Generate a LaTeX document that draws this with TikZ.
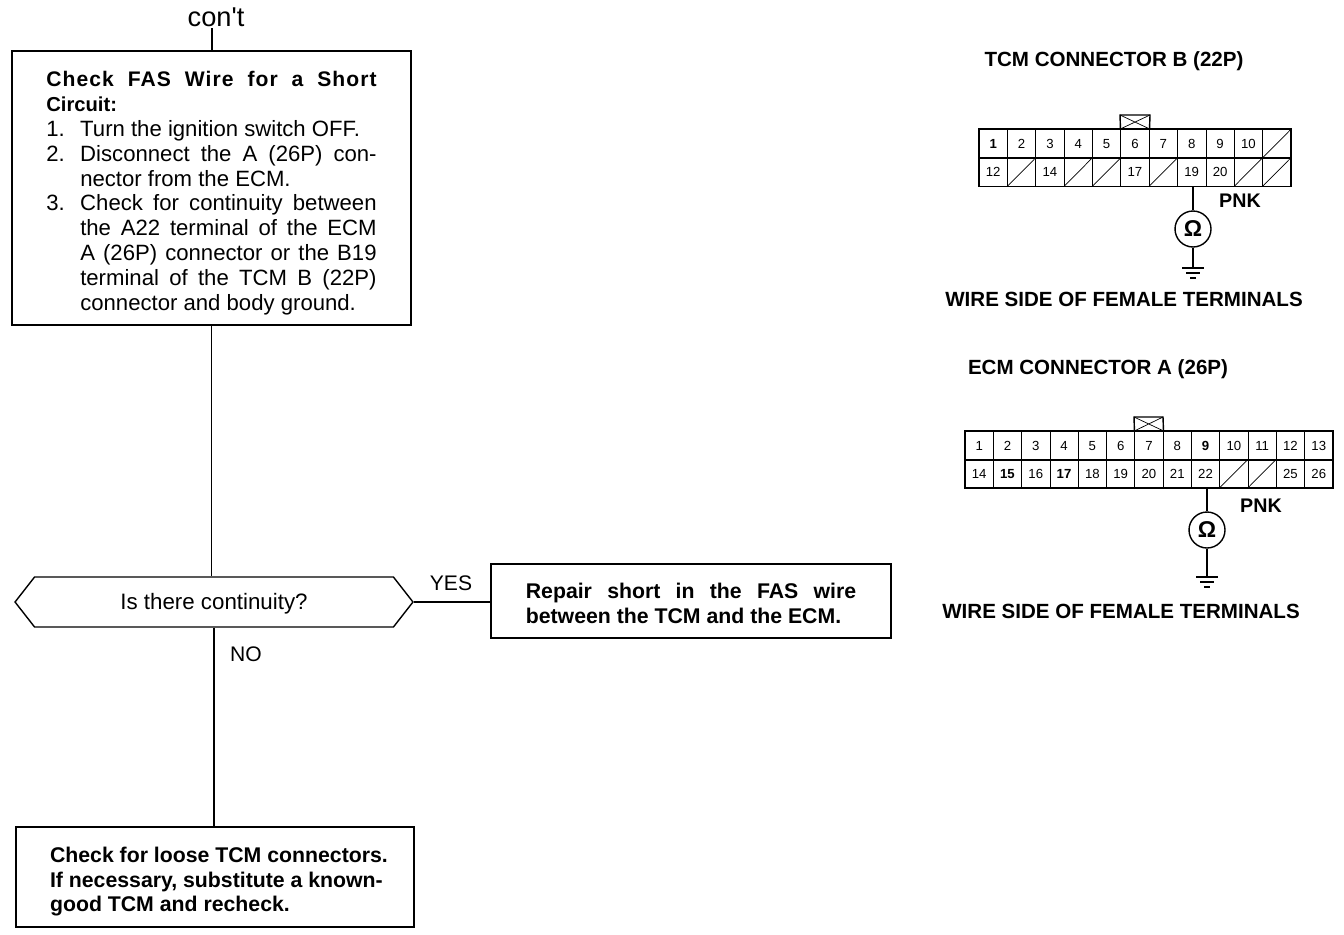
\documentclass[tikz,border=0pt]{standalone}
\usepackage{fontspec}
\setmainfont{Liberation Sans}
\usetikzlibrary{shapes.symbols}
\usetikzlibrary{positioning}
\usetikzlibrary{calc}

\newcommand{\fullline}[1]{\makebox[188pt][s]{#1}}
\newcommand{\listline}[1]{\hspace*{19.3pt}\makebox[168.7pt][s]{#1}}
\newcommand{\listnum}[2]{\makebox[19.3pt][l]{#1}#2}

\begin{document}
\begin{tikzpicture}[x=0.02cm, y=-0.02cm, line width=0.8pt,
    flowbox/.style={rectangle, draw, inner sep=0pt, align=left, font=\fontsize{12.6}{14.17}\selectfont},
    boldbox/.style={flowbox, font=\fontsize{12.1}{14.17}\bfseries\selectfont},
    cellbox/.style={rectangle, draw, line width=0.4pt, inner sep=0pt, text height=5.4pt, text depth=0pt, minimum width=0.567cm, minimum height=0.57cm, font=\fontsize{7.5}{9}\selectfont},
    caption/.style={inner sep=0pt, font=\fontsize{11.7}{13}\bfseries\selectfont},
    plain/.style={inner sep=0pt, font=\fontsize{12}{14}\selectfont},
    meter/.style={circle, draw, inner sep=0pt, minimum size=0.72cm, font=\fontsize{13}{15}\bfseries\selectfont}]
        \useasboundingbox (0,0) rectangle (1344,934);

        % Draw the flow chart boxes
        \node[plain, font=\fontsize{15.5}{18}\selectfont] (cont) at (216,17) {con\textquotesingle t};
        \coordinate (conttail) at (212,28);
        \node[flowbox, minimum width=7.98cm, minimum height=5.48cm] (check) at (211.5,188) {%
          \rule{0pt}{14.6pt}{\fontsize{12}{14.17}\bfseries\addfontfeature{LetterSpace=5}\selectfont\fullline{Check FAS Wire for a Short}}\\
          {\fontsize{11.5}{14.17}\bfseries\selectfont Circuit:}\\
          \listnum{1.}{Turn the ignition switch OFF.}\\
          \listnum{2.}{\makebox[168.7pt][s]{Disconnect the A (26P) con-}}\\
          \listline{nector from the ECM.\hfill}\\
          \listnum{3.}{\makebox[168.7pt][s]{Check for continuity between}}\\
          \listline{the A22 terminal of the ECM}\\
          \listline{A (26P) connector or the B19}\\
          \listline{terminal of the TCM B (22P)}\\
          \listline{connector and body ground.\hfill}};
        \node[signal, signal to=west and east, signal pointer angle=104, draw, inner sep=0pt, minimum width=7.96cm, minimum height=1cm, font=\fontsize{12.7}{14}\selectfont] (cont1) at (214,602) {\rule{0pt}{11.2pt}Is there continuity?};
        \node[boldbox, minimum width=8cm, minimum height=1.48cm] (repair) at (691,601) {%
          \rule{0pt}{11.6pt}\makebox[188pt][s]{Repair short in the FAS wire}\\
          between the TCM and the ECM.};
        \node[boldbox, minimum width=7.96cm, minimum height=2cm] (subst) at (215,877) {%
          \rule{0pt}{14pt}\hspace*{4.5pt}Check for loose TCM connectors.\\
          \hspace*{4.5pt}If necessary, substitute a known-\\
          \hspace*{4.5pt}good TCM and recheck.};
        \node[plain] (yes) at (451,583) {YES};
        \node[plain] (no) at (246,654) {NO};

        % Connect the boxes
        \draw (conttail) -- (conttail |- check.north);
        \draw (check.south) -- (check.south |- cont1.north);
        \draw (cont1.east) -- (cont1.east -| repair.west);
        \draw (cont1.south) -- (subst.north -| cont1.south);

        % Captions of the connectors
        \node[caption] (tcmtitle) at (1114,61) {TCM CONNECTOR B (22P)};
        \node[caption] (tcmside) at (1124,299) {WIRE SIDE OF FEMALE TERMINALS};
        \node[caption] (ecmtitle) at (1098,369) {ECM CONNECTOR A (26P)};
        \node[caption] (ecmside) at (1121,611) {WIRE SIDE OF FEMALE TERMINALS};
        \node[caption, font=\fontsize{11.2}{13}\bfseries\selectfont] (tcmpnk) at (1240,201) {PNK};
        \node[caption, font=\fontsize{11.2}{13}\bfseries\selectfont] (ecmpnk) at (1261,506) {PNK};

        % Draw the cells of the TCM connector
        \foreach \i/\t in {1/\textbf{1},2/2,3/3,4/4,5/5,6/6,7/7,8/8,9/9,10/10,11/{},12/12,13/{},14/14,15/{},16/{},17/17,18/{},19/19,20/20,21/{},22/{}}
        {
          \pgfmathtruncatemacro{\col}{mod(\i-1,11)}
          \pgfmathtruncatemacro{\row}{(\i-1)/11}
          \node[cellbox] (b\i) at ({979+28.36*(\col+0.5)},{143.5+28.5*\row}) {\t};
        }
        \foreach \i in {11,13,15,16,18,21,22}
        {
          \draw[line width=0.4pt] (b\i.south west) -- (b\i.north east);
        }
        \draw[line width=1pt] (b1.north west) rectangle (b22.south east);
        \draw[line width=1pt] (b1.south west) -- (b11.south east);

        % Draw the cells of the ECM connector
        \foreach \i/\t in {1/1,2/2,3/3,4/4,5/5,6/6,7/7,8/8,9/\textbf{9},10/10,11/11,12/12,13/13,14/14,15/\textbf{15},16/16,17/\textbf{17},18/18,19/19,20/20,21/21,22/22,23/{},24/{},25/25,26/26}
        {
          \pgfmathtruncatemacro{\col}{mod(\i-1,13)}
          \pgfmathtruncatemacro{\row}{(\i-1)/13}
          \node[cellbox] (a\i) at ({965+28.3*(\col+0.5)},{445.5+28*\row}) {\t};
        }
        \foreach \i in {23,24}
        {
          \draw[line width=0.4pt] (a\i.south west) -- (a\i.north east);
        }
        \draw[line width=1pt] (a1.north west) rectangle (a26.south east);
        \draw[line width=1pt] (a1.south west) -- (a13.south east);

        % Draw the latch tabs
        \coordinate (btl) at (1120,115);
        \coordinate (btr) at (1150,115);
        \coordinate (atl) at (1134,417);
        \coordinate (atr) at (1163,417);
        \draw (b6.north west) -- (btl) -- (btr) -- (b6.north east) -- cycle;
        \draw[line width=0.4pt] (btl) -- (b6.north east) (btr) -- (b6.north west);
        \draw (a7.north west) -- (atl) -- (atr) -- (a7.north east) -- cycle;
        \draw[line width=0.4pt] (atl) -- (a7.north east) (atr) -- (a7.north west);

        % Draw the meters and grounds
        \node[meter] (bm) at (1193,229) {Ω};
        \node[meter] (am) at (1207,530) {Ω};
        \coordinate (bg) at (1193,268);
        \coordinate (ag) at (1207,577);
        \draw[line width=1pt] (b19.south -| bm) -- (bm);
        \draw[line width=1pt] (bm) -- (bg);
        \draw[line width=1pt] (a22.south -| am) -- (am);
        \draw[line width=1pt] (am) -- (ag);
        \foreach \g in {bg,ag}
        {
          \draw ($(\g)+(-11,0)$) -- ($(\g)+(11,0)$);
          \draw ($(\g)+(-7,5)$) -- ($(\g)+(7,5)$);
          \draw ($(\g)+(-3,10)$) -- ($(\g)+(3,10)$);
        }
      \end{tikzpicture}
\end{document}
